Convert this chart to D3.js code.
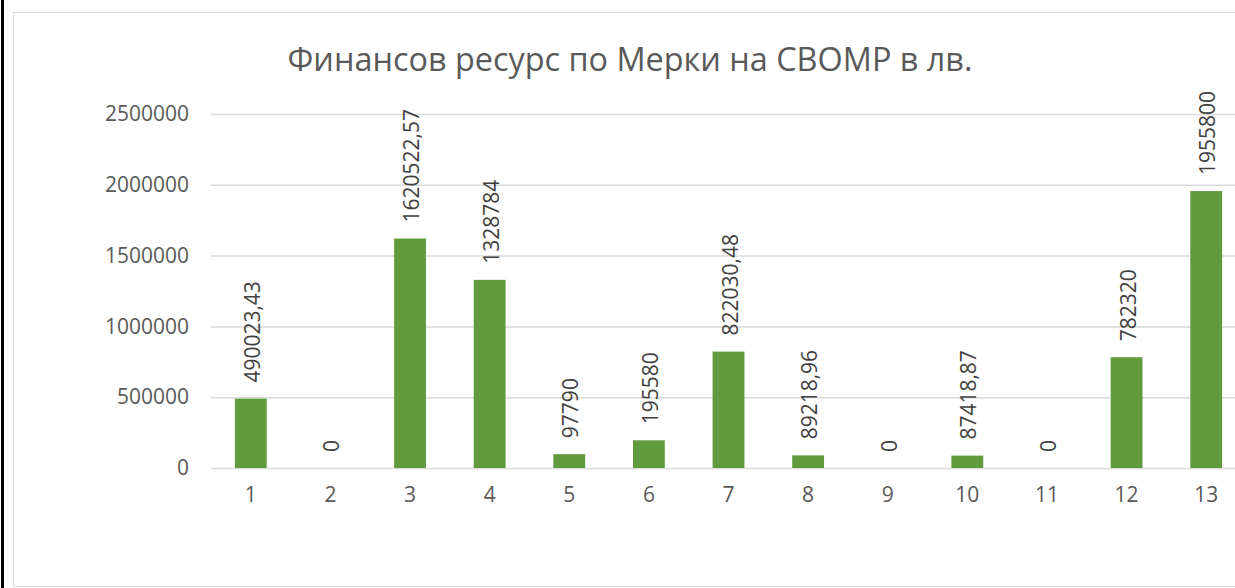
<!DOCTYPE html>
<html><head><meta charset="utf-8">
<script src="https://cdn.jsdelivr.net/npm/d3@7"></script>
<style>
html,body{margin:0;padding:0;background:#fff;overflow:hidden;}
svg text{font-family:"Open Sans",sans-serif;}
</style></head>
<body>
<svg id="c" width="1235" height="588"></svg>
<script>
const title = "Финансов ресурс по Мерки на СВОМР в лв.";
const categories = ["1","2","3","4","5","6","7","8","9","10","11","12","13"];
const values = [490023.43, 0, 1620522.57, 1328784, 97790, 195580, 822030.48, 89218.96, 0, 87418.87, 0, 782320, 1955800];
const valueLabels = ["490023,43","0","1620522,57","1328784","97790","195580","822030,48","89218,96","0","87418,87","0","782320","1955800"];
const yTicks = [0, 500000, 1000000, 1500000, 2000000, 2500000];

const svg = d3.select("#c");
svg.append("rect").attr("x",0).attr("y",0).attr("width",1235).attr("height",588).attr("fill","#fff");
svg.append("line").attr("x1",2.5).attr("x2",2.5).attr("y1",0).attr("y2",588).attr("stroke","#000").attr("stroke-width",3);
svg.append("rect").attr("x",13.5).attr("y",12.5).attr("width",1240).attr("height",574).attr("fill","none").attr("stroke","#d9d9d9").attr("stroke-width",1);

svg.append("text").attr("x",630).attr("y",71).attr("text-anchor","middle")
  .attr("font-size",32.4).attr("fill","#595959").text(title);

const x = d3.scaleBand().domain(categories).range([211,1246]).paddingInner(0.6).paddingOuter(0.3);
const y = d3.scaleLinear().domain([0,2500000]).range([468,114]);

const g = svg.append("g");
g.selectAll("line.grid").data(yTicks).join("line").attr("class","grid")
  .attr("x1",211).attr("x2",1246).attr("y1",d=>y(d)+0.5).attr("y2",d=>y(d)+0.5)
  .attr("stroke","#d9d9d9").attr("stroke-width",1.5);

const yAxis = d3.axisLeft(y).tickValues(yTicks).tickSize(0).tickPadding(0).tickFormat(d3.format("d"));
const ya = svg.append("g").attr("transform","translate(189,0)").call(yAxis);
ya.select(".domain").remove();
ya.selectAll("text").attr("font-size",21).attr("fill","#595959").attr("font-family","Open Sans");

const xAxis = d3.axisBottom(x).tickSize(0).tickPadding(0);
const xa = svg.append("g").attr("transform","translate(0,487)").call(xAxis);
xa.select(".domain").remove();
xa.selectAll("text").attr("font-size",21).attr("fill","#595959").attr("font-family","Open Sans");

g.selectAll("rect.bar").data(values).join("rect").attr("class","bar")
  .attr("x",(d,i)=>x(categories[i])).attr("width",x.bandwidth())
  .attr("y",d=>y(d)).attr("height",d=>y(0)-y(d)).attr("fill","#629a3e");

g.selectAll("text.lbl").data(values).join("text").attr("class","lbl")
  .attr("transform",(d,i)=>`translate(${x(categories[i])+x.bandwidth()/2+1},${y(d)-16}) rotate(-90)`)
  .attr("text-anchor","start").attr("dominant-baseline","central")
  .attr("font-size",21).attr("fill","#404040")
  .text((d,i)=>valueLabels[i]);
</script>
</body></html>
